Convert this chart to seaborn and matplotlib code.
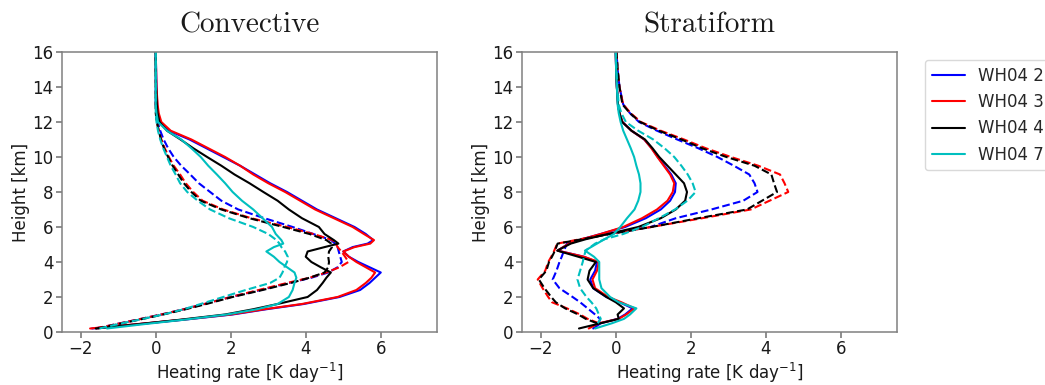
import numpy as np
import pandas as pd
import matplotlib
matplotlib.use("Agg")
import matplotlib.pyplot as plt
import seaborn as sns
from matplotlib.lines import Line2D

# ---------------- data ----------------
schemes = ["WH04 2", "WH04 3", "WH04 4", "WH04 7"]
scheme_colors = ["#0000ff", "#ff0000", "#000000", "#00bfbf"]
panel_titles = ["Convective", "Stratiform"]

# Convective panel heights [km]
conv_height = [0.2, 0.45, 0.7, 1.0, 1.3, 1.6, 2.0, 2.4, 2.8, 3.1, 3.4, 3.7, 4.0, 4.3,
               4.6, 4.85, 5.05, 5.25, 5.6, 6.0, 6.5, 7.0, 7.5, 8.0, 8.5, 9.0, 9.5,
               10.0, 10.5, 11.0, 11.5, 12.0, 12.5, 13.0, 14.0, 15.0, 16.0]

conv_wh2_solid = [-1.7, -0.45, 0.75, 2.05, 2.95, 3.95, 4.9, 5.45, 5.7, 5.85, 6.0, 5.7, 5.4, 5.15,
                  5.0, 5.25, 5.65, 5.8, 5.6, 5.3, 4.8, 4.3, 3.9, 3.5, 3.05, 2.65, 2.25,
                  1.8, 1.35, 0.9, 0.35, 0.12, 0.06, 0.04, 0.02, 0.01, 0.0]
conv_wh3_solid = [-1.75, -0.5, 0.7, 2.0, 2.9, 3.9, 4.85, 5.35, 5.6, 5.75, 5.85, 5.6, 5.35, 5.15,
                  5.0, 5.3, 5.72, 5.82, 5.55, 5.25, 4.75, 4.25, 3.85, 3.45, 3.0, 2.6, 2.25,
                  1.85, 1.4, 0.95, 0.4, 0.15, 0.08, 0.05, 0.02, 0.01, 0.0]
conv_wh4_solid = [-1.6, -0.45, 0.65, 1.85, 2.6, 3.25, 4.05, 4.3, 4.45, 4.55, 4.67, 4.4, 4.15, 4.0,
                  4.05, 4.5, 4.87, 4.75, 4.5, 4.35, 3.9, 3.55, 3.25, 2.87, 2.5, 2.1, 1.75,
                  1.37, 1.0, 0.66, 0.3, 0.1, 0.05, 0.03, 0.01, 0.0, 0.0]
conv_wh7_solid = [-1.3, -0.3, 0.75, 1.9, 2.7, 3.25, 3.55, 3.65, 3.7, 3.75, 3.7, 3.5, 3.3, 3.15,
                  2.95, 3.15, 3.4, 3.35, 3.2, 3.1, 2.85, 2.6, 2.3, 2.05, 1.85, 1.63, 1.4,
                  1.2, 0.95, 0.68, 0.3, 0.06, 0.02, 0.0, 0.0, 0.0, 0.0]

conv_wh2_dashed = [-1.6, -1.05, -0.5, 0.15, 0.75, 1.3, 2.0, 2.8, 3.55, 4.15, 4.6, 4.85, 4.96, 4.92,
                   4.88, 4.85, 4.78, 4.68, 4.2, 3.65, 2.9, 2.2, 1.75, 1.45, 1.15, 0.92, 0.68,
                   0.48, 0.33, 0.21, 0.12, 0.05, 0.02, 0.0, 0.0, 0.0, 0.0]
conv_wh3_dashed = [-1.6, -1.05, -0.5, 0.15, 0.75, 1.3, 2.0, 2.75, 3.5, 4.1, 4.55, 4.9, 5.14, 5.05,
                   4.95, 4.85, 4.8, 4.72, 4.2, 3.5, 2.55, 1.8, 1.25, 1.0, 0.8, 0.65, 0.48,
                   0.35, 0.24, 0.15, 0.08, 0.03, 0.01, 0.0, 0.0, 0.0, 0.0]
conv_wh4_dashed = [-1.55, -1.0, -0.45, 0.2, 0.8, 1.35, 2.05, 2.85, 3.6, 4.1, 4.5, 4.6, 4.62, 4.6,
                   4.62, 4.7, 4.68, 4.55, 4.1, 3.4, 2.5, 1.75, 1.2, 0.95, 0.75, 0.6, 0.45,
                   0.33, 0.22, 0.14, 0.08, 0.03, 0.0, 0.0, 0.0, 0.0, 0.0]
conv_wh7_dashed = [-1.5, -1.0, -0.45, 0.2, 0.75, 1.2, 1.8, 2.4, 3.05, 3.3, 3.38, 3.43, 3.5, 3.52,
                   3.45, 3.35, 3.3, 3.22, 3.0, 2.6, 1.95, 1.45, 1.12, 0.84, 0.65, 0.53, 0.4,
                   0.3, 0.2, 0.12, 0.06, 0.02, 0.0, 0.0, 0.0, 0.0, 0.0]

# Stratiform panel heights [km]
strat_height = [0.2, 0.5, 0.75, 1.0, 1.35, 1.7, 2.0, 2.5, 3.0, 3.5, 4.0, 4.3, 4.65, 5.05,
                5.3, 5.6, 6.0, 6.5, 7.0, 7.5, 8.0, 8.5, 9.0, 9.5, 10.0, 10.5, 11.0,
                11.5, 12.0, 12.5, 13.0, 14.0, 15.0, 16.0]

strat_wh2_solid = [-0.6, -0.4, 0.05, 0.25, 0.45, 0.1, -0.25, -0.6, -0.68, -0.55, -0.5, -0.85, -1.55, -1.25,
                   -0.9, -0.4, 0.25, 0.8, 1.2, 1.45, 1.58, 1.6, 1.48, 1.3, 1.12, 0.96, 0.76,
                   0.42, 0.18, 0.1, 0.06, 0.03, 0.01, 0.0]
strat_wh3_solid = [-0.72, -0.45, 0.08, 0.28, 0.5, 0.15, -0.2, -0.55, -0.62, -0.5, -0.45, -0.85, -1.55, -1.25,
                   -0.9, -0.4, 0.2, 0.7, 1.1, 1.38, 1.52, 1.56, 1.45, 1.28, 1.11, 0.95, 0.76,
                   0.42, 0.18, 0.1, 0.06, 0.03, 0.01, 0.0]
strat_wh4_solid = [-0.98, -0.4, 0.08, 0.05, 0.22, 0.0, -0.25, -0.6, -0.75, -0.7, -0.53, -1.0, -1.56, -1.2,
                   -0.8, -0.2, 0.6, 1.2, 1.6, 1.85, 1.9, 1.82, 1.6, 1.38, 1.16, 0.98, 0.78,
                   0.42, 0.17, 0.1, 0.06, 0.03, 0.01, 0.0]
strat_wh7_solid = [-0.55, -0.1, 0.22, 0.38, 0.55, 0.08, -0.15, -0.38, -0.44, -0.44, -0.44, -0.58, -0.82, -0.5,
                   -0.3, -0.05, 0.12, 0.3, 0.5, 0.6, 0.66, 0.66, 0.62, 0.55, 0.49, 0.4, 0.3,
                   0.2, 0.13, 0.08, 0.05, 0.03, 0.01, 0.0]

strat_wh2_dashed = [np.nan, -0.45, -0.42, -0.55, -0.75, -0.95, -1.15, -1.5, -1.68, -1.58, -1.5, -1.44, -1.38, -1.3,
                    -0.9, -0.2, 0.93, 1.6, 2.55, 3.4, 3.78, 3.7, 3.56, 3.15, 2.71, 2.2, 1.64,
                    1.1, 0.62, 0.38, 0.2, 0.1, 0.05, 0.02]
strat_wh3_dashed = [np.nan, -0.45, -0.75, -0.95, -1.3, -1.7, -1.8, -1.95, -2.08, -1.88, -1.8, -1.72, -1.64, -1.56,
                    -0.95, -0.2, 0.95, 2.3, 3.6, 4.1, 4.6, 4.5, 4.38, 3.8, 3.07, 2.4, 1.82,
                    1.2, 0.67, 0.4, 0.2, 0.1, 0.05, 0.02]
strat_wh4_dashed = [np.nan, -0.5, -0.8, -1.0, -1.35, -1.6, -1.72, -1.9, -2.05, -1.85, -1.78, -1.7, -1.62, -1.55,
                    -0.9, -0.15, 0.95, 2.2, 3.5, 3.9, 4.3, 4.22, 4.15, 3.7, 2.95, 2.3, 1.75,
                    1.15, 0.65, 0.38, 0.18, 0.1, 0.05, 0.02]
strat_wh7_dashed = [np.nan, -0.48, -0.4, -0.45, -0.52, -0.65, -0.78, -0.95, -1.02, -0.95, -0.88, -0.85, -0.8, -0.55,
                    -0.3, 0.2, 0.7, 1.15, 1.58, 1.91, 2.13, 2.05, 1.92, 1.75, 1.56, 1.3, 1.0,
                    0.6, 0.27, 0.15, 0.08, 0.04, 0.02, 0.0]

x_ticks = [-2, 0, 2, 4, 6]
y_ticks = [0, 2, 4, 6, 8, 10, 12, 14, 16]

# ---------------- tidy table ----------------
def build(height, series):
    frames = []
    for scheme, kind, vals in series:
        d = pd.DataFrame({"height": height, "rate": vals})
        d["scheme"] = scheme
        d["kind"] = kind
        frames.append(d.dropna())
    return pd.concat(frames, ignore_index=True)

conv_df = build(conv_height, [
    ("WH04 2", "solid", conv_wh2_solid), ("WH04 3", "solid", conv_wh3_solid),
    ("WH04 4", "solid", conv_wh4_solid), ("WH04 7", "solid", conv_wh7_solid),
    ("WH04 2", "dashed", conv_wh2_dashed), ("WH04 3", "dashed", conv_wh3_dashed),
    ("WH04 4", "dashed", conv_wh4_dashed), ("WH04 7", "dashed", conv_wh7_dashed),
])
strat_df = build(strat_height, [
    ("WH04 2", "solid", strat_wh2_solid), ("WH04 3", "solid", strat_wh3_solid),
    ("WH04 4", "solid", strat_wh4_solid), ("WH04 7", "solid", strat_wh7_solid),
    ("WH04 2", "dashed", strat_wh2_dashed), ("WH04 3", "dashed", strat_wh3_dashed),
    ("WH04 4", "dashed", strat_wh4_dashed), ("WH04 7", "dashed", strat_wh7_dashed),
])

# ---------------- style ----------------
sns.set_theme(style="ticks")
plt.rcParams.update({
    "font.family": ["DejaVu Sans"],
    "mathtext.fontset": "dejavusans",
    "axes.edgecolor": "0.5",
    "axes.linewidth": 1.1,
    "xtick.color": "0.5",
    "ytick.color": "0.5",
    "xtick.labelcolor": "0.1",
    "ytick.labelcolor": "0.1",
    "xtick.labelsize": 12,
    "ytick.labelsize": 12,
    "axes.labelsize": 12,
    "axes.labelcolor": "0.1",
    "xtick.major.size": 4,
    "ytick.major.size": 4,
    "xtick.major.pad": 2,
    "ytick.major.pad": 2,
    "axes.labelpad": 2,
})

fig = plt.figure(figsize=(10.45, 3.85), dpi=100)
ax_l = fig.add_axes([0.0593, 0.1377, 0.3589, 0.7273])
ax_r = fig.add_axes([0.4995, 0.1377, 0.3589, 0.7273])

for ax, df, title in [(ax_l, conv_df, panel_titles[0]), (ax_r, strat_df, panel_titles[1])]:
    sns.lineplot(data=df, x="rate", y="height", hue="scheme", style="kind",
                 hue_order=schemes, palette=scheme_colors,
                 style_order=["solid", "dashed"],
                 dashes={"solid": "", "dashed": (3.7, 1.6)},
                 sort=False, estimator=None, legend=False, linewidth=1.5, ax=ax)
    ax.set_xlim(-2.5, 7.5)
    ax.set_ylim(0, 16)
    ax.set_xticks(x_ticks)
    ax.set_yticks(y_ticks)
    ax.set_xlabel(r"Heating rate [K day$^{-1}$]")
    ax.set_ylabel("Height [km]")
    ax.set_title(title, fontsize=21, pad=14, family="cmr10", color="0.1")

handles = [Line2D([], [], color=c, lw=1.5) for c in scheme_colors]
fig.legend(handles, schemes, loc="upper left", bbox_to_anchor=(925 / 1045, 1 - 60 / 385),
           borderaxespad=0, fontsize=12, frameon=True, fancybox=True,
           edgecolor="0.85", framealpha=1.0)

fig.savefig("out.png", dpi=100)
